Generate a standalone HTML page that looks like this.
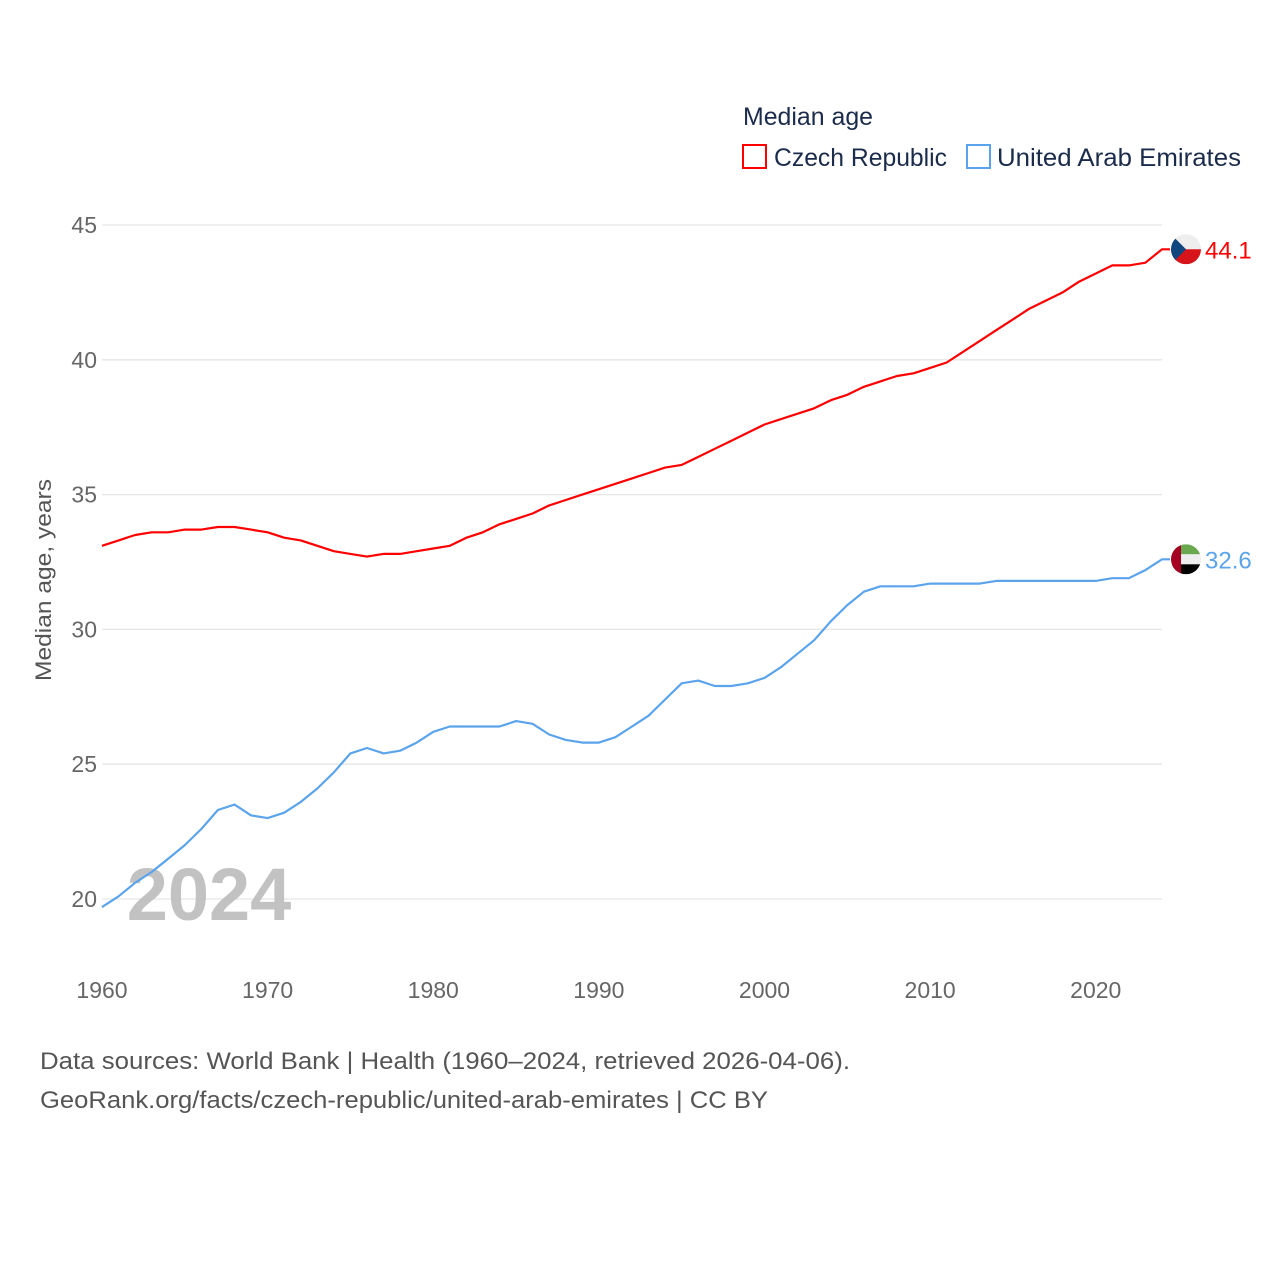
<!DOCTYPE html>
<html><head><meta charset="utf-8"><style>
html,body{margin:0;padding:0;background:#fff;}
svg{display:block;font-family:"Liberation Sans",sans-serif;}
</style></head><body>
<svg id="chart" width="1280" height="1280" viewBox="0 0 1280 1280">
<text x="743" y="125" font-size="25" fill="#1b2b4b" textLength="130" lengthAdjust="spacingAndGlyphs">Median age</text>
<g>
<rect x="743" y="145" width="23" height="23" fill="none" stroke="#ff0000" stroke-width="2"/>
<text x="774" y="166" font-size="25" fill="#1b2b4b" textLength="173" lengthAdjust="spacingAndGlyphs">Czech Republic</text>
</g>
<g>
<rect x="967" y="145" width="23" height="23" fill="none" stroke="#5ba4ec" stroke-width="2"/>
<text x="997" y="166" font-size="25" fill="#1b2b4b" textLength="244" lengthAdjust="spacingAndGlyphs">United Arab Emirates</text>
</g>
<g id="grid"></g>
<g id="yticks"></g>
<g id="xticks"></g>
<text x="209" y="920" font-size="74" font-weight="bold" fill="#bbbbbb" fill-opacity="0.9" text-anchor="middle">2024</text>
<text transform="translate(51,580) rotate(-90)" font-size="22" fill="#555" text-anchor="middle" textLength="202" lengthAdjust="spacingAndGlyphs">Median age, years</text>
<g id="series"></g>
<text x="40" y="1069" font-size="24" fill="#555" textLength="810" lengthAdjust="spacingAndGlyphs">Data sources: World Bank | Health (1960–2024, retrieved 2026-04-06).</text>
<text x="40" y="1108" font-size="24" fill="#555" textLength="728" lengthAdjust="spacingAndGlyphs">GeoRank.org/facts/czech-republic/united-arab-emirates | CC BY</text>
</svg>
<script>
const years = [];
for (let y = 1960; y <= 2024; y++) years.push(y);
const czech = [33.1,33.3,33.5,33.6,33.6,33.7,33.7,33.8,33.8,33.7,33.6,33.4,33.3,33.1,32.9,32.8,32.7,32.8,32.8,32.9,33.0,33.1,33.4,33.6,33.9,34.1,34.3,34.6,34.8,35.0,35.2,35.4,35.6,35.8,36.0,36.1,36.4,36.7,37.0,37.3,37.6,37.8,38.0,38.2,38.5,38.7,39.0,39.2,39.4,39.5,39.7,39.9,40.3,40.7,41.1,41.5,41.9,42.2,42.5,42.9,43.2,43.5,43.5,43.6,44.1];
const uae = [19.7,20.1,20.6,21.0,21.5,22.0,22.6,23.3,23.5,23.1,23.0,23.2,23.6,24.1,24.7,25.4,25.6,25.4,25.5,25.8,26.2,26.4,26.4,26.4,26.4,26.6,26.5,26.1,25.9,25.8,25.8,26.0,26.4,26.8,27.4,28.0,28.1,27.9,27.9,28.0,28.2,28.6,29.1,29.6,30.3,30.9,31.4,31.6,31.6,31.6,31.7,31.7,31.7,31.7,31.8,31.8,31.8,31.8,31.8,31.8,31.8,31.9,31.9,32.2,32.6];
const yTicks = [20,25,30,35,40,45];
const xTicks = [1960,1970,1980,1990,2000,2010,2020];
const lastLabels = ["44.1","32.6"];

const NS = "http://www.w3.org/2000/svg";
const xS = v => 102 + (v - 1960) * (1162 - 102) / 64;
const yS = v => 225 + (45 - v) * (899 - 225) / 25;
function mk(tag, attrs, parent){ const e=document.createElementNS(NS,tag); for(const k in attrs) e.setAttribute(k,attrs[k]); parent.appendChild(e); return e; }

const grid = document.getElementById('grid'), yt = document.getElementById('yticks'), xt = document.getElementById('xticks'), ser = document.getElementById('series');
yTicks.forEach(t => {
  const l = mk('line',{x1:102,x2:1162,y1:yS(t),y2:yS(t),stroke:'#e6e6e6','stroke-width':1.3},grid);
  
  
  const tx = mk('text',{x:97,y:yS(t)+8,'font-size':23,fill:'#666','text-anchor':'end'},yt);
  tx.textContent = t;
  
  
});
xTicks.forEach(t => {
  const tx = mk('text',{x:xS(t),y:998,'font-size':23,fill:'#666','text-anchor':'middle'},xt);
  tx.textContent = t;
  
  
});
const series = [{name:'czech',data:czech,color:'#ff0000'},{name:'uae',data:uae,color:'#5ba4ec'}];
series.forEach((s,i) => {
  const pts = s.data.map((v,j)=>xS(years[j]).toFixed(1)+','+yS(v).toFixed(1));
  const last = s.data[s.data.length-1];
  pts.push((xS(2024)+8).toFixed(1)+','+yS(last).toFixed(1));
  const p = mk('polyline',{points:pts.join(' '),fill:'none',stroke:s.color,'stroke-width':2.2,'stroke-linejoin':'round'},ser);
  
  
  const cx = 1186, cy = yS(last);
  const g = mk('g',{},ser);
  
  
  const cid = 'clip'+i;
  const cp = mk('clipPath',{id:cid},g); mk('circle',{cx:cx,cy:cy,r:15},cp);
  const fg = mk('g',{'clip-path':'url(#'+cid+')'},g);
  if (s.name==='czech'){
    mk('rect',{x:cx-15,y:cy-15,width:30,height:15,fill:'#eeeeee'},fg);
    mk('rect',{x:cx-15,y:cy,width:30,height:15,fill:'#d7141a'},fg);
    mk('polygon',{points:(cx-15)+','+(cy-15)+' '+(cx)+','+cy+' '+(cx-15)+','+(cy+15),fill:'#11457e'},fg);
  } else {
    mk('rect',{x:cx-15,y:cy-15,width:30,height:10,fill:'#6aa84f'},fg);
    mk('rect',{x:cx-15,y:cy-5,width:30,height:10,fill:'#eeeeee'},fg);
    mk('rect',{x:cx-15,y:cy+5,width:30,height:10,fill:'#000'},fg);
    mk('rect',{x:cx-15,y:cy-15,width:10,height:30,fill:'#a50021'},fg);
  }
  const lt = mk('text',{x:1205,y:cy+9,'font-size':24,fill:s.color},ser);
  lt.textContent = lastLabels[i];
  
  
});
</script>
</body></html>
